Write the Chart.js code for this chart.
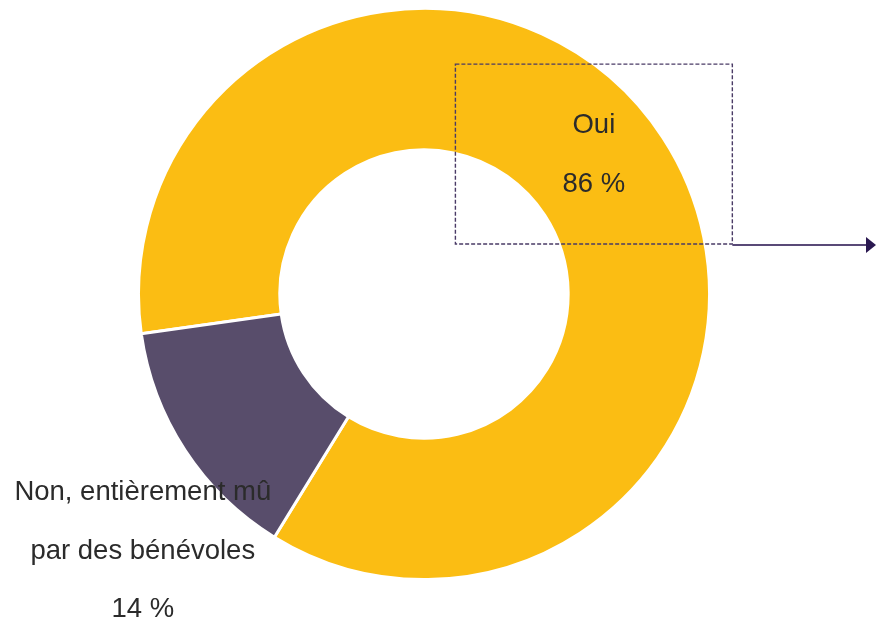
<!DOCTYPE html>
<html lang="fr">
<head>
  <meta charset="UTF-8" />
  <title>Oui / Non</title>
  <script src="https://cdn.jsdelivr.net/npm/chart.js"></script>
  <style>
    html, body { margin: 0; padding: 0; background: #fff; }
    #wrap { width: 876px; height: 620px; }
  </style>
</head>
<body>
  <div id="wrap"><canvas id="myChart" width="876" height="620"></canvas></div>

  <script>
    // data
    const categories = ['Oui', 'Non, entièrement mû par des bénévoles'];
    const labelLines = [['Oui'], ['Non, entièrement mû', 'par des bénévoles']];
    const shares = [86, 14];
    const sliceColors = ['#FBBD13', '#584D6B'];

    const FONT = '27.5px "Liberation Sans", Arial, sans-serif';

    // labels, dashed box and arrow drawn after the arcs
    const calloutPlugin = {
      id: 'callout',
      afterDraw(chart) {
        const ctx = chart.ctx;
        const arc = chart.getDatasetMeta(0).data[0];
        const cx = arc.x, cy = arc.y, R = arc.outerRadius;

        ctx.save();
        // dashed box round the "Oui" label
        const bx = cx + 0.11 * R, by = cy - 0.805 * R;
        const bw = 0.97 * R, bh = 0.63 * R;
        ctx.strokeStyle = '#4A3B66';
        ctx.lineWidth = 1.4;
        ctx.setLineDash([4, 2]);
        ctx.strokeRect(bx, by, bw, bh);

        // arrow out to the right
        ctx.setLineDash([]);
        ctx.strokeStyle = '#594A77';
        ctx.lineWidth = 2;
        const ay = by + bh + 1;
        ctx.beginPath();
        ctx.moveTo(bx + bw, ay);
        ctx.lineTo(chart.width - 8, ay);
        ctx.stroke();
        ctx.fillStyle = '#2A1850';
        ctx.beginPath();
        ctx.moveTo(chart.width, ay);
        ctx.lineTo(chart.width - 10, ay - 8);
        ctx.lineTo(chart.width - 10, ay + 8);
        ctx.closePath();
        ctx.fill();

        // text
        ctx.fillStyle = '#2b2b2b';
        ctx.font = FONT;
        ctx.textAlign = 'center';
        ctx.textBaseline = 'middle';
        const step = 58.5;

        // Oui
        let lines = labelLines[0].concat([shares[0] + ' %']);
        let tx = cx + 0.595 * R, ty = cy - 0.59 * R;
        lines.forEach((t, i) => ctx.fillText(t, tx, ty + i * step));

        // Non
        lines = labelLines[1].concat([shares[1] + ' %']);
        tx = cx - 0.985 * R; ty = cy + 0.695 * R;
        lines.forEach((t, i) => ctx.fillText(t, tx, ty + i * step));
        ctx.restore();
      }
    };

    new Chart(document.getElementById('myChart'), {
      type: 'doughnut',
      data: {
        labels: categories,
        datasets: [{
          data: shares,
          backgroundColor: sliceColors,
          borderColor: '#ffffff',
          borderWidth: 3
        }]
      },
      options: {
        responsive: false,
        animation: false,
        rotation: 262,
        cutout: '50.5%',
        layout: { padding: { left: 137, right: 165, top: 7, bottom: 39 } },
        plugins: {
          legend: { display: false },
          tooltip: { enabled: false }
        }
      },
      plugins: [calloutPlugin]
    });
  </script>
</body>
</html>
